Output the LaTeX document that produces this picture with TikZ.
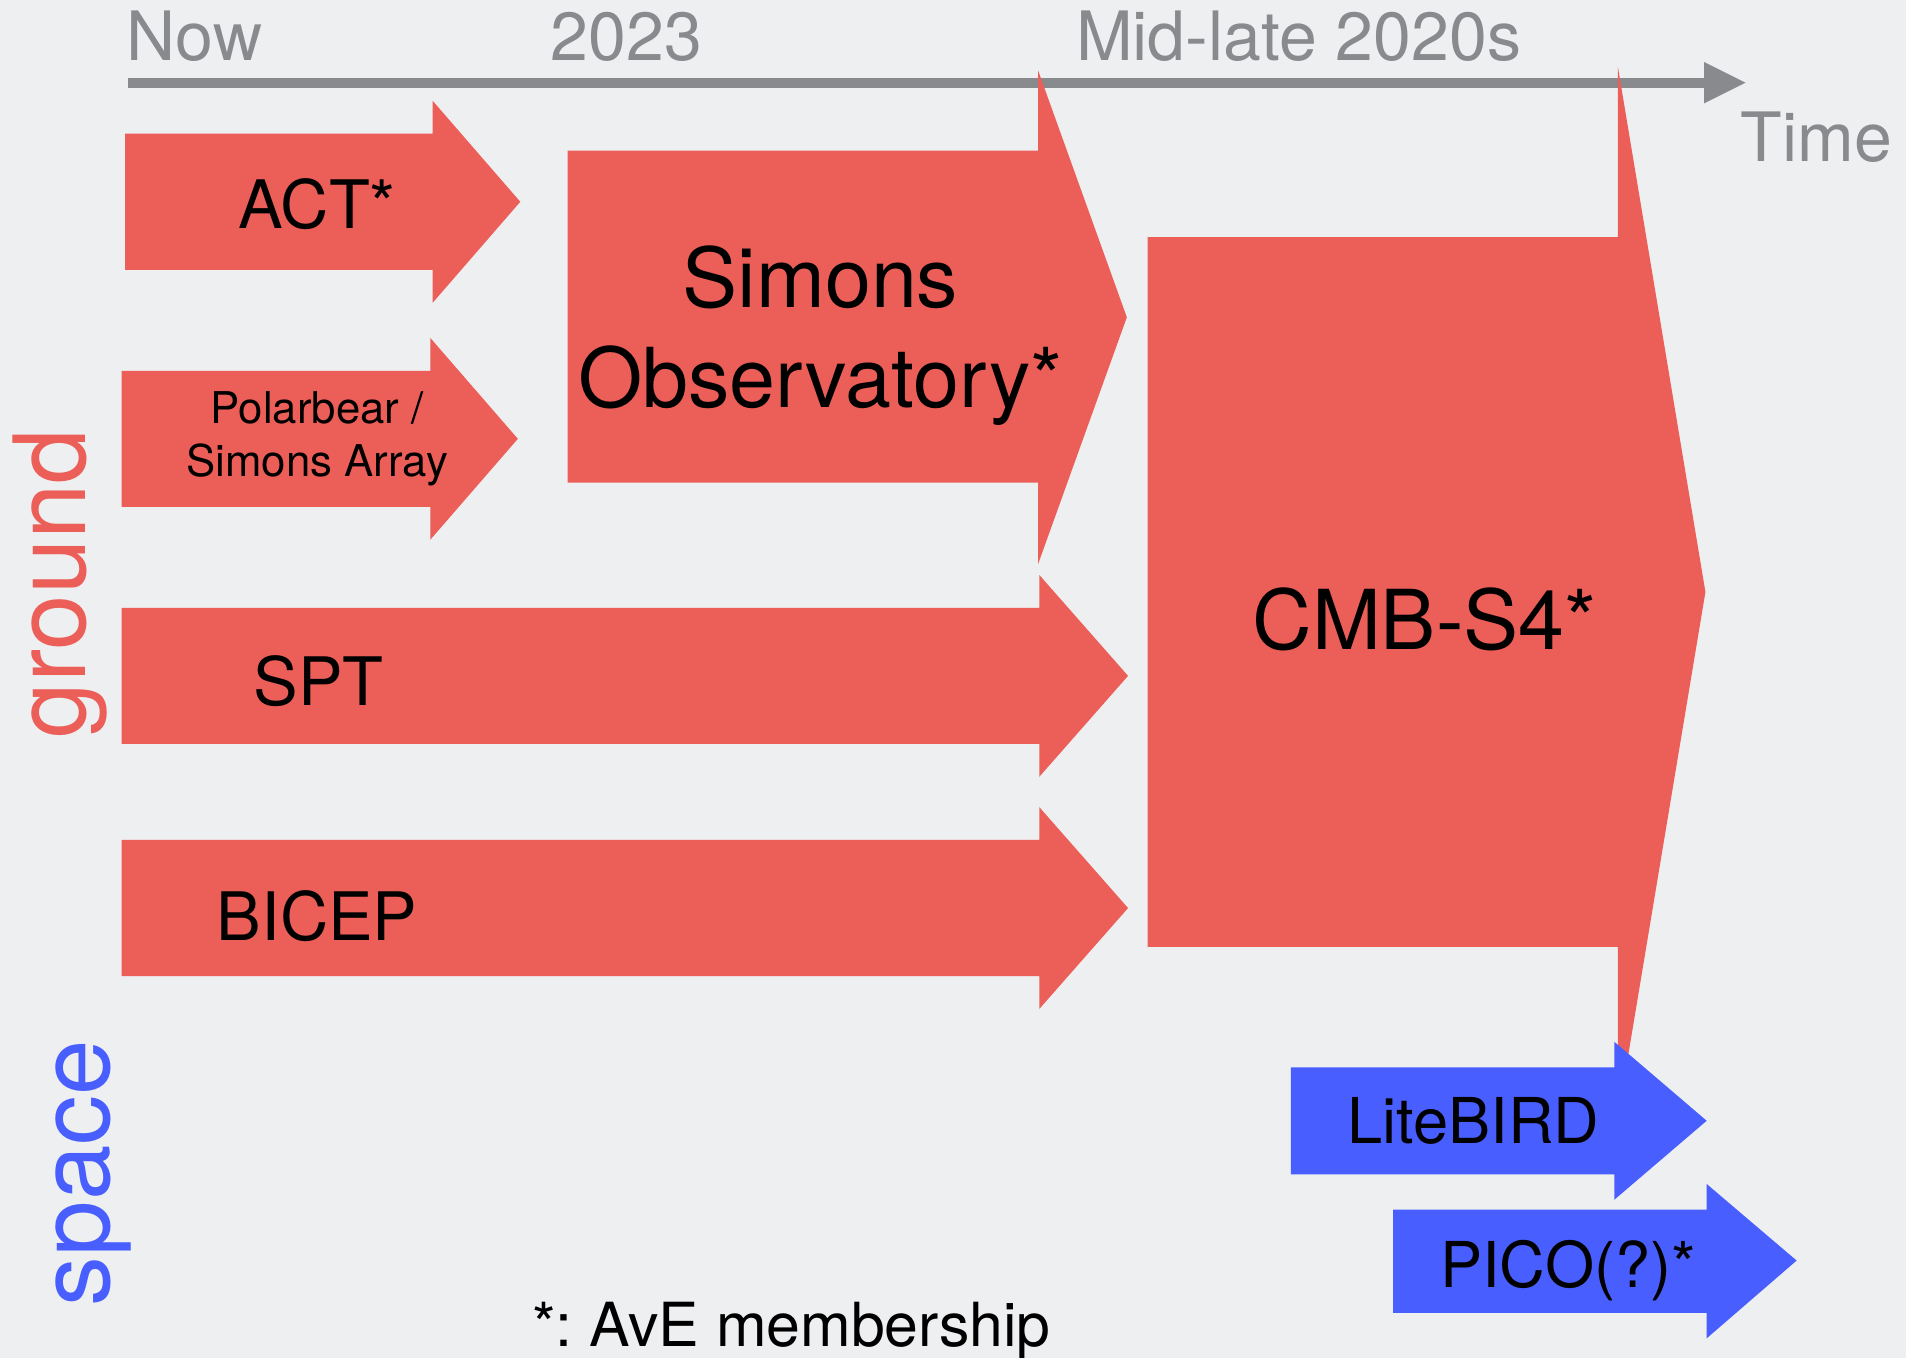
\documentclass[tikz,border=0pt]{standalone}
\usepackage{fontspec}
\setmainfont{TeX Gyre Heros}
\frenchspacing
\definecolor{bg}{RGB}{238,239,241}
\definecolor{cred}{RGB}{236,94,88}
\definecolor{cblue}{RGB}{72,94,255}
\definecolor{cgray}{RGB}{136,138,142}
\begin{document}
\begin{tikzpicture}[x=1pt,y=-1pt,
  redarrow/.style={fill=cred},
  bluearrow/.style={fill=cblue},
  timelbl/.style={text=cgray,inner sep=0pt,anchor=base west,font=\fontsize{56}{62}\selectfont},
  lbl/.style={text=black,inner sep=0pt,anchor=base},
  biglbl/.style={lbl,font=\fontsize{55}{62}\selectfont},
]
\fill[bg] (0,0) rectangle (1568,1117);
\useasboundingbox (0,0) rectangle (1568,1117);

% time axis
\coordinate (axs) at (105,68);
\coordinate (axe) at (1402,68);
\draw[cgray,line width=8pt] (axs) -- (axe);
\fill[cgray] (1402,51) -- (1436,68) -- (1402,85) -- cycle;
\node[timelbl] (now) at (104,50) {Now};
\node[timelbl] (y2023) at (453,50) {2023};
\node[timelbl] (mid) at (885,50) {Mid-late 2020s};
\node[timelbl] (time) at (1432,133) {Time};

% ground arrows
\fill[redarrow] (103,110) -- (356,110) -- (356,83) -- (428,166) -- (356,249) -- (356,222) -- (103,222) -- cycle;
\node[biglbl] (act) at (261,188) {ACT*};

\fill[redarrow] (100,305) -- (354,305) -- (354,278) -- (426,361) -- (354,444) -- (354,417) -- (100,417) -- cycle;
\node[text=black,inner sep=0pt,align=center,font=\fontsize{36}{43}\selectfont] (pb) at (261,361) {Polarbear /\\Simons Array};

\fill[redarrow] (467,124) -- (854,124) -- (854,58) -- (927,261) -- (854,464) -- (854,397) -- (467,397) -- cycle;
\node[text=black,inner sep=0pt,align=center,font=\fontsize{68}{82}\selectfont] (so) at (675,276) {Simons\\Observatory*};

\fill[redarrow] (100,500) -- (855,500) -- (855,473) -- (928,556) -- (855,639) -- (855,612) -- (100,612) -- cycle;
\node[biglbl] (spt) at (262,580) {SPT};

\fill[redarrow] (100,691) -- (855,691) -- (855,664) -- (928,747) -- (855,830) -- (855,803) -- (100,803) -- cycle;
\node[biglbl] (bicep) at (261,774) {BICEP};

\fill[redarrow] (944,195) -- (1331,195) -- (1331,55) -- (1403,487) -- (1331,919) -- (1331,779) -- (944,779) -- cycle;
\node[lbl,font=\fontsize{68}{80}\selectfont] (s4) at (1172,534) {CMB-S4*};

% space arrows
\fill[bluearrow] (1062,878) -- (1328,878) -- (1328,857) -- (1404,922) -- (1328,987) -- (1328,966) -- (1062,966) -- cycle;
\node[lbl,font=\fontsize{52}{60}\selectfont] (lb) at (1212,941) {LiteBIRD};

\fill[bluearrow] (1146,995) -- (1404,995) -- (1404,974) -- (1478,1037) -- (1404,1101) -- (1404,1080) -- (1146,1080) -- cycle;
\node[lbl,font=\fontsize{52}{60}\selectfont] (pico) at (1290,1059) {PICO(?)*};

% side labels
\node[text=cred,inner sep=0pt,anchor=base,rotate=90,font=\fontsize{82}{90}\selectfont] (ground) at (70,480) {ground};
\node[text=cblue,inner sep=0pt,anchor=base,rotate=90,font=\fontsize{82}{90}\selectfont] (space) at (90,965) {space};

% footnote
\node[lbl,font=\fontsize{50}{58}\selectfont] (foot) at (651,1108) {*: AvE membership};
\end{tikzpicture}
\end{document}
